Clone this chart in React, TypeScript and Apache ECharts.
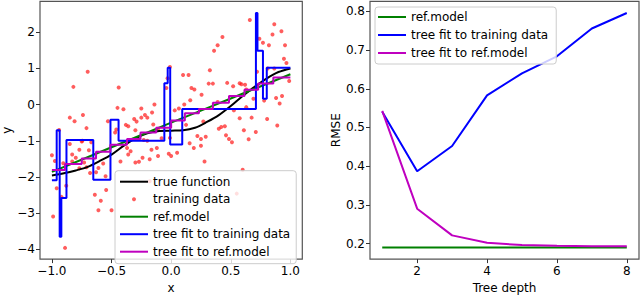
import { useEffect, useRef } from "react";
import * as echarts from "echarts";

// ---------- left panel data ----------
const trueX = [-1.0, -0.9, -0.8, -0.7, -0.6, -0.5, -0.4, -0.3, -0.2, -0.1, 0.0, 0.1, 0.2, 0.3, 0.4, 0.5, 0.6, 0.7, 0.8, 0.9, 1.0];
const trueY = [-1.96, -1.90, -1.82, -1.72, -1.56, -1.38, -1.14, -0.93, -0.79, -0.73, -0.72, -0.71, -0.64, -0.48, -0.29, -0.04, 0.24, 0.49, 0.72, 0.9, 1.0];

const trainX = [
  -0.70, -0.82, -0.85, -0.81, -0.74, -0.71, -0.745, -0.94, -0.44, -0.45, -0.40, -0.53, -0.47, -0.46, -0.38, -0.36,
  -0.31, -0.29, -0.25, -0.22, -0.20, -0.25, -0.14, -0.15, -0.11, -0.08, -0.23, -0.30, -0.03, -0.01, -0.04, 0.10,
  0.146, 0.03, 0.065, 0.11, 0.17, 0.195, 0.255, 0.16, 0.325, 0.315, 0.35, 0.36, 0.39, 0.43, 0.39, 0.125,
  0.27, 0.25, 0.40, 0.42, 0.45, 0.46, 0.47, 0.52, 0.575, 0.59, 0.62, 0.63, 0.526, 0.63, 0.575, 0.675,
  0.61, 0.66, 0.69, 0.71, 0.65, 0.72, 0.74, 0.77, 0.82, 0.805, 0.865, 0.85, 0.925, 0.955, 0.946, 0.967,
  0.88, 0.93, 0.91, 0.99, 0.89, 0.81, 0.865, 0.78, 0.69, 0.485, 0.51, -0.16, -0.01,
  -1.0, -0.975, -0.96, -0.99, -0.89, -0.92, -0.88, -0.85, -0.75, -0.67, -0.69, -0.77, -0.80, -0.83, -0.905, -0.73,
  -0.77, -0.71, -0.61, -0.63, -0.64, -0.545, -0.59, -0.61, -0.50, -0.55, -0.68, -0.425, -0.36, -0.37, -0.30, -0.27,
  -0.24, -0.165, -0.18, -0.11, -0.2, -0.02, 0.0, 0.05, 0.155, 0.19, 0.22, 0.25, 0.29, 0.28, -0.34, -0.57,
  -0.83, 0.60, 0.55, -0.18, -0.12,
];
const trainY = [
  0.91, 0.49, -0.36, -0.46, -0.29, -0.65, -1.0, -0.70, 0.47, -0.09, -0.13, -0.46, -0.77, -0.69, -0.56, -0.60,
  -0.40, -0.47, -0.36, -0.29, -0.36, -0.11, 0.0, -0.55, -0.67, -0.93, -0.98, -0.71, 0.73, 1.04, 0.46, 0.82,
  0.82, -0.16, -0.11, 0.0, 0.46, 0.42, 0.27, 0.12, 0.95, 0.58, 0.58, 1.49, 1.64, 1.87, 0.07, -0.56,
  -0.47, -0.95, -0.67, -0.62, -0.60, -0.85, 0.60, 0.51, 0.59, 0.56, 0.55, 0.42, -0.16, -0.07, -0.38, -0.36,
  -0.71, 2.34, 0.44, -0.76, -0.96, 0.91, 1.82, 1.71, 1.64, -0.40, 2.22, 1.94, 2.03, 1.64, 1.27, 1.15,
  0.18, 0.24, 0.03, 0.65, -0.58, 1.0, 1.0, 0.11, 0.16, -0.95, -1.04, -0.22, -0.92,
  -1.40, -1.56, -2.31, -3.09, -3.96, -2.55, -2.24, -1.09, -1.02, -1.04, -1.26, -1.25, -1.47, -1.57, -1.62, -1.60,
  -1.76, -1.73, -1.75, -1.87, -2.49, -2.36, -2.66, -2.92, -2.92, -1.98, -1.89, -1.57, -1.38, -1.2, -1.60, -1.58,
  -1.47, -1.25, -1.51, -1.42, -1.0, -1.36, -1.42, -1.33, -1.07, -1.2, -0.87, -1.14, -0.89, -1.57, -1.29, -1.63,
  -1.38, -1.8, -2.46, -2.12, -1.2,
];

const refX = [-1.0, -0.5, 0.0, 0.5, 1.0];
const refY = [-1.86, -1.18, -0.5, 0.17, 0.84];

const treeTrainEdges = [-1.0, -0.96, -0.935, -0.921, -0.878, -0.653, -0.509, -0.441, -0.057, -0.029, -0.008, 0.093, 0.711, 0.724, 0.770, 0.802, 1.0];
const treeTrainValues = [-2.09, -0.71, -3.65, -2.58, -0.98, -2.08, -0.42, -1.0, 0.59, 1.02, -1.1, -0.12, 2.53, 1.49, 0.16, 1.02];

const treeRefEdges = [-1.0, -0.89, -0.75, -0.63, -0.51, -0.37, -0.257, -0.125, 0.0, 0.115, 0.233, 0.35, 0.485, 0.615, 0.73, 0.857, 1.0];
const treeRefValues = [-1.81, -1.64, -1.49, -1.30, -1.11, -0.95, -0.77, -0.64, -0.44, -0.24, -0.12, 0.05, 0.24, 0.41, 0.58, 0.75];

const leftXTicks = [-1.0, -0.5, 0.0, 0.5, 1.0];
const leftYTicks = [-4, -3, -2, -1, 0, 1, 2];

// ---------- right panel data ----------
const depth = [1, 2, 3, 4, 5, 6, 7, 8];
const rmseRef = [0.19, 0.19, 0.19, 0.19, 0.19, 0.19, 0.19, 0.19];
const rmseTreeTrain = [0.541, 0.387, 0.452, 0.583, 0.64, 0.684, 0.756, 0.796];
const rmseTreeRef = [0.543, 0.29, 0.221, 0.202, 0.196, 0.194, 0.193, 0.193];

const rightXTicks = [2, 4, 6, 8];
const rightYTicks = [0.2, 0.3, 0.4, 0.5, 0.6, 0.7, 0.8];

const leftLegend = ["true function", "training data", "ref.model", "tree fit to training data", "tree fit to ref.model"];
const rightLegend = ["ref.model", "tree fit to training data", "tree fit to ref.model"];

const BLACK = "#000000";
const RED = "rgba(255,16,16,0.85)";
const GREEN = "#008000";
const BLUE = "#0000ff";
const MAGENTA = "#bf00bf";

const LINE_ICON = "path://M0 0H28V2H0Z";

const pairs = (xs: number[], ys: number[]) => xs.map((x, i) => [x, ys[i]]);
const steps = (edges: number[], vals: number[]) =>
  vals.map((v, i) => [edges[i], v]).concat([[edges[edges.length - 1], vals[vals.length - 1]]]);
const minus = (s: string) => s.replace("-", "\u2212");
const legendItems = (names: string[]) =>
  names.map((n) => (n === "training data" ? { name: n, icon: "circle" } : { name: n, icon: LINE_ICON }));

export default function App() {
  const ref = useRef<HTMLDivElement>(null);
  useEffect(() => {
    const chart = echarts.init(ref.current!, null, { renderer: "svg" });
    const font = "DejaVu Sans";
    const labelBase = { color: "#000", fontSize: 12, fontFamily: font };
    const tick = { show: true, length: 4, lineStyle: { color: "#333", width: 1 } };
    const noLine = { show: false, onZero: false };
    const gridBase = { show: true, borderColor: "#555", borderWidth: 1.2, backgroundColor: "transparent", containLabel: false };
    const legendBase = {
      orient: "vertical",
      itemWidth: 28,
      itemHeight: 4,
      itemGap: 3.5,
      backgroundColor: "rgba(255,255,255,0.8)",
      borderColor: "#cccccc",
      borderWidth: 1,
      borderRadius: 3,
      itemStyle: { borderWidth: 0 },
      textStyle: { color: "#000", fontSize: 12, fontFamily: font, lineHeight: 14 },
      selectedMode: false,
    };
    const option: any = {
      animation: false,
      textStyle: { fontFamily: font },
      grid: [
        { ...gridBase, left: 33.3, top: 1.3, width: 269, height: 267 },
        { ...gridBase, left: 370, top: 1.3, width: 269, height: 267 },
      ],
      xAxis: [
        {
          type: "value", gridIndex: 0, min: -1.1, max: 1.1,
          axisLine: noLine, splitLine: { show: false },
          axisTick: { ...tick, customValues: leftXTicks },
          axisLabel: { ...labelBase, margin: 6, customValues: leftXTicks, formatter: (v: number) => minus(v.toFixed(1)) },
          name: "x", nameLocation: "middle", nameGap: 17, nameTextStyle: labelBase,
        },
        {
          type: "value", gridIndex: 1, min: 0.65, max: 8.35,
          axisLine: noLine, splitLine: { show: false },
          axisTick: { ...tick, customValues: rightXTicks },
          axisLabel: { ...labelBase, margin: 6, customValues: rightXTicks, formatter: (v: number) => String(v) },
          name: "Tree depth", nameLocation: "middle", nameGap: 17, nameTextStyle: labelBase,
        },
      ],
      yAxis: [
        {
          type: "value", gridIndex: 0, min: -4.27, max: 2.855,
          axisLine: noLine, splitLine: { show: false },
          axisTick: { ...tick, customValues: leftYTicks },
          axisLabel: { ...labelBase, margin: 5, customValues: leftYTicks, formatter: (v: number) => minus(String(v)) },
          name: "y", nameLocation: "middle", nameGap: 27, nameRotate: 90, nameTextStyle: labelBase,
        },
        {
          type: "value", gridIndex: 1, min: 0.1597, max: 0.8263,
          axisLine: noLine, splitLine: { show: false },
          axisTick: { ...tick, customValues: rightYTicks },
          axisLabel: { ...labelBase, margin: 5, customValues: rightYTicks, formatter: (v: number) => v.toFixed(1) },
          name: "RMSE", nameLocation: "middle", nameGap: 25, nameRotate: 90, nameTextStyle: labelBase,
        },
      ],
      legend: [
        { ...legendBase, left: 115, top: 170.7, padding: [4, 6, 5, 5], data: legendItems(leftLegend) },
        { ...legendBase, left: 375, top: 7, itemGap: 4, padding: [3, 8, 4, 3], data: legendItems(rightLegend) },
      ],
      series: [
        {
          name: "true function", type: "line", xAxisIndex: 0, yAxisIndex: 0,
          data: pairs(trueX, trueY), smooth: 0.3, symbol: "none",
          color: BLACK, lineStyle: { color: BLACK, width: 2 },
        },
        {
          name: "training data", type: "scatter", xAxisIndex: 0, yAxisIndex: 0,
          data: pairs(trainX, trainY), symbol: "circle", symbolSize: 4,
          color: RED, itemStyle: { color: RED },
        },
        {
          name: "ref.model", type: "line", xAxisIndex: 0, yAxisIndex: 0,
          data: pairs(refX, refY), smooth: 0.3, symbol: "none",
          color: GREEN, lineStyle: { color: GREEN, width: 2 },
        },
        {
          name: "tree fit to training data", type: "line", xAxisIndex: 0, yAxisIndex: 0,
          data: steps(treeTrainEdges, treeTrainValues), step: "end", symbol: "none",
          color: BLUE, lineStyle: { color: BLUE, width: 2 },
        },
        {
          name: "tree fit to ref.model", type: "line", xAxisIndex: 0, yAxisIndex: 0,
          data: steps(treeRefEdges, treeRefValues), step: "end", symbol: "none",
          color: MAGENTA, lineStyle: { color: MAGENTA, width: 2 },
        },
        {
          name: "ref.model", type: "line", xAxisIndex: 1, yAxisIndex: 1,
          data: pairs(depth, rmseRef), symbol: "none",
          color: GREEN, lineStyle: { color: GREEN, width: 2 },
        },
        {
          name: "tree fit to training data", type: "line", xAxisIndex: 1, yAxisIndex: 1,
          data: pairs(depth, rmseTreeTrain), symbol: "none",
          color: BLUE, lineStyle: { color: BLUE, width: 2 },
        },
        {
          name: "tree fit to ref.model", type: "line", xAxisIndex: 1, yAxisIndex: 1,
          data: pairs(depth, rmseTreeRef), symbol: "none",
          color: MAGENTA, lineStyle: { color: MAGENTA, width: 2 },
        },
      ],
    };
    chart.setOption(option);
    return () => chart.dispose();
  }, []);
  return (
    <div
      ref={ref}
      style={{ position: "absolute", left: 0, top: 0, width: 640, height: 299, background: "#fff" }}
    />
  );
}
